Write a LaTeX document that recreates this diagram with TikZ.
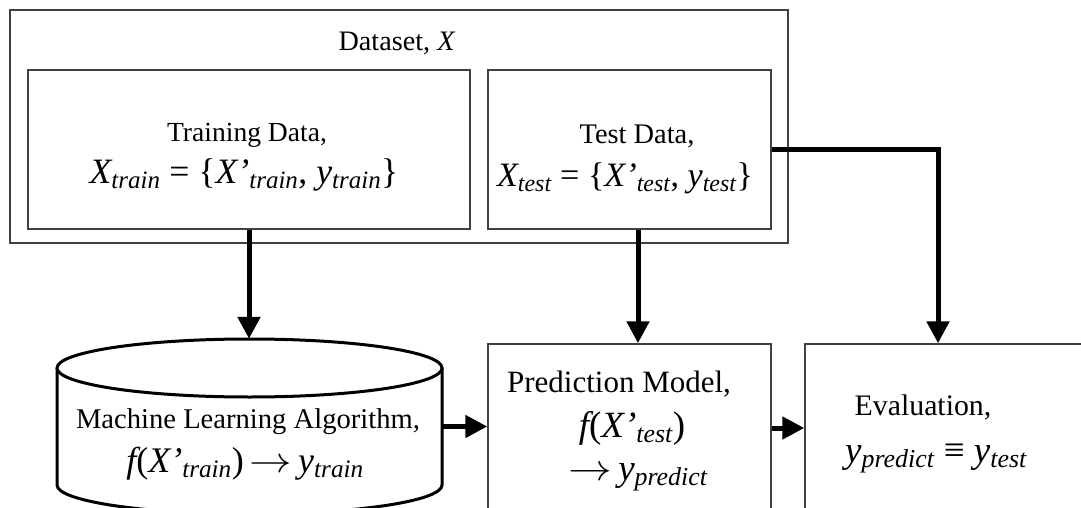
\documentclass[tikz,border=0pt]{standalone}
\usepackage{fontspec}
\setmainfont{Liberation Serif}
\DeclareFontShape{OMS}{cmsy}{m}{n}{<->cmsy10}{}
\usetikzlibrary{arrows.meta}
\newcommand{\fsz}[1]{\fontsize{#1}{#1}\selectfont}
\newcommand{\sbx}[1]{\textsubscript{\itshape #1}}
\newcommand{\rmp}[1]{{\upshape #1}}
\newcommand{\arw}{\scalebox{1.18}[1]{$\rightarrow$}}
\begin{document}
\begin{tikzpicture}[x=1pt,y=-1pt,
  box/.style={draw=black!75,line width=1.5pt,inner sep=0pt,fill=white},
  txt/.style={inner sep=0pt,anchor=base},
  arr/.style={line width=5pt,line join=miter,-{Triangle[width=22pt,length=22pt]}},
  cyl/.style={draw=black,line width=3pt,fill=white}
]
\useasboundingbox (0,0) rectangle (1081,508);
\clip (0,0) rectangle (1081,508);
% boxes
\node[box,minimum width=778pt,minimum height=233pt] (dataset) at (399,126.5) {};
\node[box,minimum width=442pt,minimum height=159pt] (train) at (249,149.5) {};
\node[box,minimum width=283pt,minimum height=159pt] (test) at (629.5,149.5) {};
\node[box,minimum width=283pt,minimum height=168pt] (pred) at (629.5,428) {};
\node[box,minimum width=285pt,minimum height=168pt] (eval) at (947.5,428) {};
% cylinder
\node[inner sep=0pt,minimum width=385pt,minimum height=175pt] (mla) at (249.5,426.5) {};
\draw[cyl] (57,368) -- (57,485) arc[start angle=180,end angle=0,x radius=192.5,y radius=29] -- (442,368);
\draw[cyl] (249.5,368) ellipse [x radius=192.5,y radius=29];
% connectors
\draw[arr] (train.south) -- (train.south |- mla.north);
\draw[arr] ([xshift=8.5pt]test.south) -- ([xshift=8.5pt]pred.north);
\draw[arr] (test.east) -| ([xshift=-9.5pt]eval.north);
\draw[arr] (mla.east) -- (mla.east -| pred.west);
\draw[arr] (pred.east) -- (eval.west);
% texts
\node[txt,font=\fsz{28.2}] (dslbl) at (397,51) {Dataset, \textit{X}};
\node[txt,font=\fsz{27.6}] (trlbl) at (247,142) {Training Data,};
\node[txt,font=\fsz{35.7}] (trf) at (244,183) {\itshape X\sbx{train} \rmp{=} \rmp{\{}X’\sbx{train}\rmp{,} y\sbx{train}\rmp{\}}};
\node[txt,font=\fsz{28.4}] (tslbl) at (637,143) {Test Data,};
\node[txt,font=\fsz{34.2}] (tsf) at (625,186) {\itshape X\sbx{test} \rmp{=} \rmp{\{}X’\sbx{test}\rmp{,} y\sbx{test}\rmp{\}}};
\node[txt,font=\fsz{28.6}] (mlalbl) at (248,428) {Machine Learning Algorithm,};
\node[txt,font=\fsz{36}] (mlaf) at (245,472) {\itshape f\rmp{(}X’\sbx{train}\rmp{)}\,\arw\,y\sbx{train}};
\node[txt,font=\fsz{31}] (plbl) at (619,392) {Prediction Model,};
\node[txt,font=\fsz{37}] (pf1) at (632,437) {\itshape f\rmp{(}X’\sbx{test}\rmp{)}};
\node[txt,font=\fsz{37}] (pf2) at (638,480) {\arw\,\itshape y\sbx{predict}};
\node[txt,font=\fsz{29.8}] (elbl) at (923,415) {Evaluation,};
\node[txt,font=\fsz{37}] (ef) at (936,462) {\itshape y\sbx{predict} \rmp{≡} y\sbx{test}};
\end{tikzpicture}
\end{document}
